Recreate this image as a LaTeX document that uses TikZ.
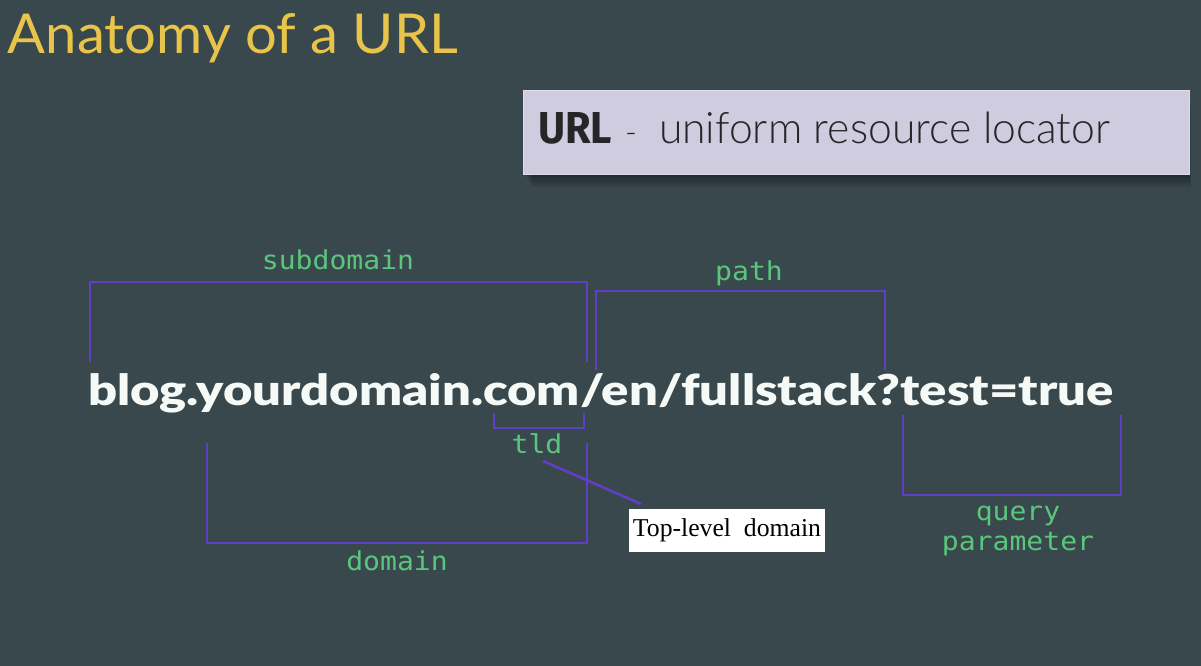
\documentclass[tikz,border=0pt]{standalone}
\usepackage{fontspec}
\usepackage{graphicx}
\newfontfamily\titlefont{Lato}
\newfontfamily\boxfont{Lato Light}
\newfontfamily\boxbold{Fira Sans}
\newfontfamily\urlfont{Lato Black}
\newfontfamily\monofont{DejaVu Sans Mono}
\newfontfamily\serffont{Liberation Serif}
\definecolor{bg}{RGB}{57,72,76}
\definecolor{ttl}{RGB}{232,196,74}
\definecolor{boxfill}{RGB}{207,204,224}
\definecolor{boxedge}{RGB}{222,220,232}
\definecolor{boxtext}{RGB}{38,38,40}
\definecolor{brk}{RGB}{95,64,196}
\definecolor{lblg}{RGB}{90,198,124}
\definecolor{urlw}{RGB}{246,250,246}
\newcommand\lbl[1]{\scalebox{1.08}[1]{\monofont\fontsize{26}{28}\selectfont #1}}
\begin{document}
\begin{tikzpicture}[x=1pt,y=-1pt,
  txt/.style={inner sep=0pt,outer sep=0pt},
  lab/.style={txt,text=lblg,anchor=base},
  bracket/.style={draw=brk,line width=2.6pt,line join=miter}]
\useasboundingbox (0,0) rectangle (1201,666);
\fill[bg] (0,0) rectangle (1201,666);
% title
\node[txt,text=ttl,anchor=base west] (title) at (8,54)
  {\resizebox{450pt}{40pt}{\titlefont Anatomy of a URL}};
% definition box with soft shadow
\foreach \i in {1,...,6}{
  \fill[black,opacity=0.07] (523+\i*1.5,92+\i*2.2) rectangle (1189+\i*0.3,174+\i*2.2);
}
\node[txt,draw=boxedge,line width=0.8pt,fill=boxfill,anchor=north west,
  minimum width=666pt,minimum height=84pt] (defbox) at (523,90) {};
\node[txt,text=boxtext,anchor=base west] (urlabbr) at (538,143)
  {\resizebox{74pt}{31pt}{\boxbold\bfseries URL}};
\node[txt,text=boxtext,anchor=base west] (dash) at (625,143)
  {\boxfont\fontsize{32}{34}\selectfont -};
\node[txt,text=boxtext,anchor=base west] (urldef) at (659,143)
  {\resizebox{451pt}{31.5pt}{\boxfont uniform resource locator}};
% main url
\node[txt,text=urlw,anchor=base west] (url) at (88,405)
  {\resizebox{1025pt}{32pt}{\urlfont blog.yourdomain.com/en/fullstack?test=true}};
% brackets
\draw[bracket] (90,362) -- (90,282) -- (587,282) -- (587,362);
\draw[bracket] (596,370) -- (596,291) -- (885,291) -- (885,370);
\draw[bracket] (494,413) -- (494,428) -- (584,428) -- (584,413);
\draw[bracket] (207,443) -- (207,543) -- (587,543) -- (587,443);
\draw[bracket] (903,415) -- (903,495) -- (1121,495) -- (1121,415);
% labels
\node[lab] (subdomain) at (338,269) {\lbl{subdomain}};
\node[lab] (path) at (749,280) {\lbl{path}};
\node[lab] (tld) at (537,453) {\lbl{tld}};
\node[lab] (domain) at (397,570) {\lbl{domain}};
\node[lab] (query) at (1018,520) {\lbl{query}};
\node[lab] (param) at (1018,550) {\lbl{parameter}};
% top-level domain callout
\node[txt,fill=white,minimum width=196pt,minimum height=43pt,anchor=north west,
  font=\serffont\fontsize{25.7}{28}\selectfont,text=black] (tlbox) at (629,509)
  {Top-level\ \ domain};
\coordinate (tldfoot) at (543,461);
\coordinate (tlpoint) at (641,504);
\draw[draw=brk,line width=2.6pt] (tldfoot) -- (tlpoint);
\end{tikzpicture}
\end{document}
